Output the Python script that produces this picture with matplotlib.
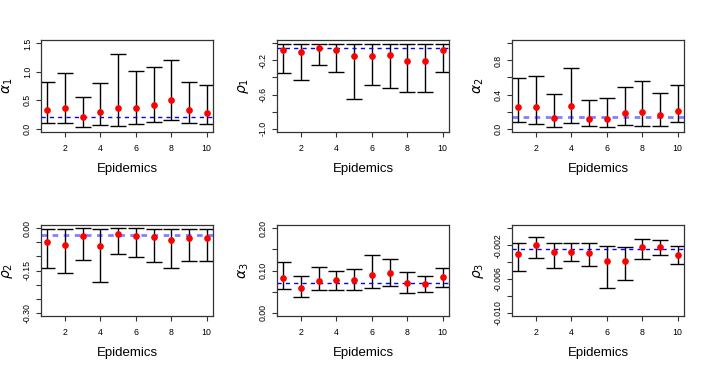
import matplotlib
matplotlib.use('Agg')
from matplotlib import pyplot as plt

plt.rcParams['font.family'] = ['Liberation Sans', 'DejaVu Sans']
plt.rcParams['mathtext.fontset'] = 'dejavusans'

W, H = 706, 368
epidemics = list(range(1, 11))

# alpha_1
a1_est = [0.32, 0.37, 0.20, 0.30, 0.37, 0.37, 0.41, 0.51, 0.32, 0.28]
a1_low = [0.09, 0.095, 0.035, 0.07, 0.05, 0.075, 0.12, 0.155, 0.09, 0.075]
a1_up = [0.815, 0.98, 0.565, 0.81, 1.32, 1.02, 1.09, 1.20, 0.815, 0.76]
a1_true = 0.2

# rho_1
p1_est = [-0.079, -0.106, -0.055, -0.082, -0.153, -0.145, -0.137, -0.204, -0.204, -0.079]
p1_low = [-0.349, -0.43, -0.25, -0.34, -0.65, -0.486, -0.518, -0.57, -0.57, -0.333]
p1_up = [-0.004, -0.004, -0.002, -0.004, -0.004, -0.005, -0.005, -0.005, -0.005, -0.003]
p1_true = -0.05

# alpha_2
a2_est = [0.25, 0.25, 0.121, 0.267, 0.118, 0.11, 0.18, 0.20, 0.157, 0.204]
a2_low = [0.082, 0.055, 0.016, 0.067, 0.032, 0.016, 0.043, 0.035, 0.027, 0.079]
a2_up = [0.59, 0.615, 0.41, 0.71, 0.34, 0.357, 0.49, 0.56, 0.42, 0.51]
a2_true = 0.14

# rho_2
p2_est = [-0.049, -0.058, -0.028, -0.064, -0.021, -0.026, -0.030, -0.042, -0.033, -0.033]
p2_low = [-0.14, -0.158, -0.112, -0.19, -0.09, -0.101, -0.119, -0.14, -0.116, -0.116]
p2_up = [-0.001, -0.002, 0.0, -0.001, 0.0, 0.0, -0.001, -0.001, -0.001, -0.001]
p2_true = -0.023

# alpha_3
a3_est = [0.082, 0.058, 0.076, 0.077, 0.077, 0.090, 0.093, 0.070, 0.067, 0.085]
a3_low = [0.055, 0.038, 0.053, 0.054, 0.054, 0.058, 0.064, 0.046, 0.048, 0.061]
a3_up = [0.119, 0.086, 0.109, 0.098, 0.104, 0.136, 0.128, 0.096, 0.086, 0.107]
a3_true = 0.071

# rho_3
p3_est = [-0.00306, -0.00192, -0.00283, -0.00286, -0.0029, -0.00389, -0.00389, -0.00223, -0.00227, -0.00318]
p3_low = [-0.0051, -0.00357, -0.00472, -0.00393, -0.00445, -0.00708, -0.0061, -0.00369, -0.00315, -0.00428]
p3_up = [-0.00168, -0.00097, -0.00168, -0.00168, -0.00172, -0.00208, -0.00223, -0.00129, -0.00137, -0.00208]
p3_true = -0.0025

panels = [
    # (est, low, up, true, ylabel, ylim, yticks, yticklabels, pale, left px, top px, bottom px)
    (a1_est, a1_low, a1_up, a1_true, r'$\alpha_1$', (-0.06, 1.56),
     [0.0, 0.5, 1.0, 1.5], ['0.0', '0.5', '1.0', '1.5'], False, 41, 40, 132),
    (p1_est, p1_low, p1_up, p1_true, r'$\rho_1$', (-1.04, 0.04),
     [-1.0, -0.8, -0.6, -0.4, -0.2, 0.0], ['-1.0', '', '-0.6', '', '-0.2', ''], False, 277, 40, 132),
    (a2_est, a2_low, a2_up, a2_true, r'$\alpha_2$', (-0.04, 1.04),
     [0.0, 0.2, 0.4, 0.6, 0.8, 1.0], ['0.0', '', '0.4', '', '0.8', ''], True, 512, 40, 132),
    (p2_est, p2_low, p2_up, p2_true, r'$\rho_2$', (-0.312, 0.012),
     [-0.3, -0.25, -0.2, -0.15, -0.1, -0.05, 0.0], ['-0.30', '', '', '-0.15', '', '', '0.00'], True, 41, 225, 316),
    (a3_est, a3_low, a3_up, a3_true, r'$\alpha_3$', (-0.008, 0.208),
     [0.0, 0.05, 0.1, 0.15, 0.2], ['0.00', '', '0.10', '', '0.20'], False, 277, 225, 316),
    (p3_est, p3_low, p3_up, p3_true, r'$\rho_3$', (-0.0104, 0.0004),
     [-0.010, -0.008, -0.006, -0.004, -0.002, 0.0], ['-0.010', '', '-0.006', '', '-0.002', ''], False, 512, 225, 316),
]

fig = plt.figure(figsize=(W / 100, H / 100), dpi=100)

for est, low, up, true, ylab, ylim, yticks, ytl, pale, left, top, bottom in panels:
    ax = fig.add_axes([left / W, 1 - bottom / H, 172 / W, (bottom - top) / H])
    err = [[e - l for e, l in zip(est, low)], [u - e for u, e in zip(up, est)]]
    ax.errorbar(epidemics, est, yerr=err, fmt='none', ecolor='black', elinewidth=1,
                capsize=5.8, capthick=1)
    if pale:
        ax.axhline(true, color='blue', alpha=0.5, lw=2, ls=(0, (2, 2)))
    else:
        ax.axhline(true, color='blue', lw=1, ls=(0, (3, 3)))
    ax.plot(epidemics, est, 'o', color='red', ms=3.8, zorder=5)
    ax.set_xlim(0.64, 10.36)
    ax.set_ylim(*ylim)
    ax.set_xticks([2, 4, 6, 8, 10])
    ax.set_yticks(yticks)
    ax.set_yticklabels(ytl, rotation=90, va='center')
    ax.tick_params(labelsize=6.3, length=3.5, width=0.8, color='#333333', pad=3)
    ax.tick_params(axis='x', pad=5)
    for s in ax.spines.values():
        s.set_color('#333333')
        s.set_linewidth(0.9)
    ax.set_xlabel('Epidemics', fontsize=9.5, labelpad=7)
    ax.set_ylabel(ylab, fontsize=10, labelpad=6)

plt.savefig('out.png', dpi=100)
